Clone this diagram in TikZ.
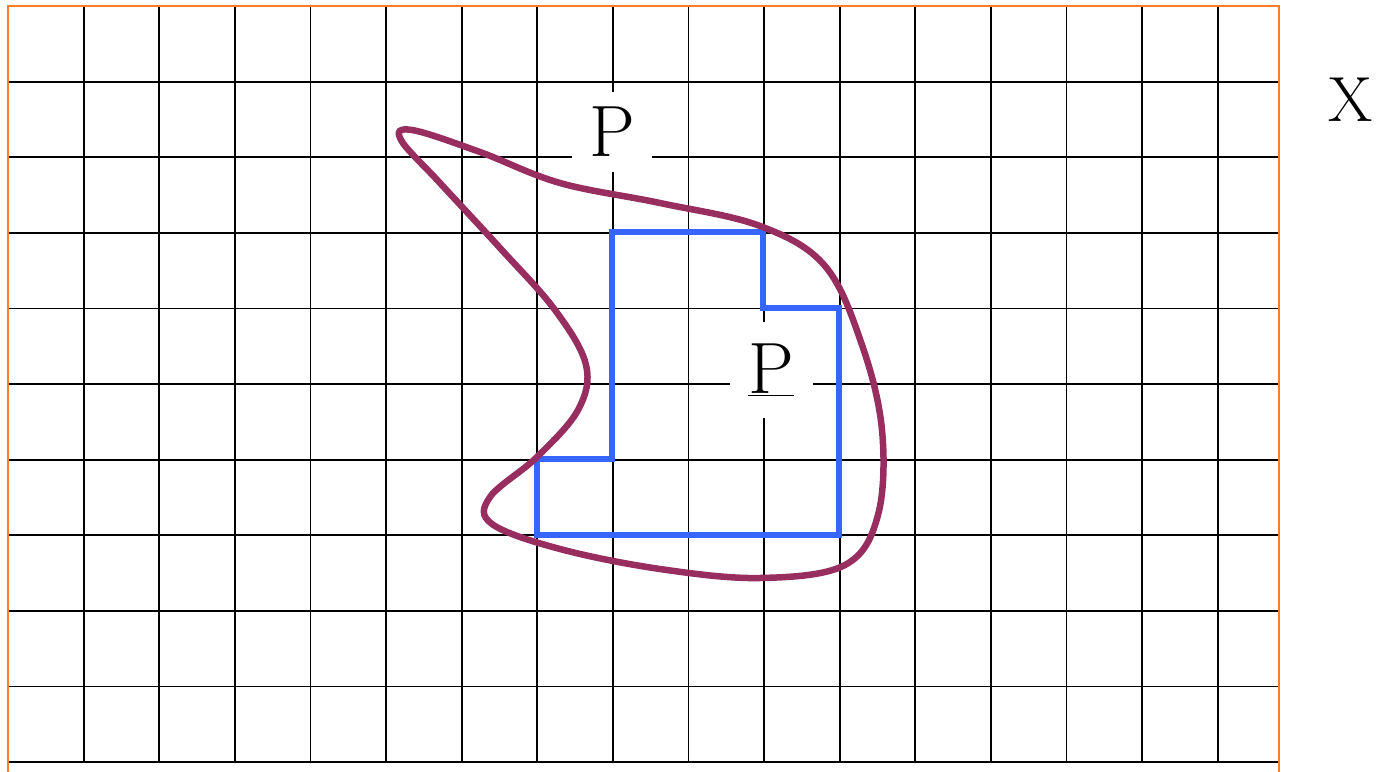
\documentclass[tikz,border=0pt]{standalone}
\begin{document}
\begin{tikzpicture}[x=1bp,y=-1bp,
  gridline/.style={black,line width=1.8bp},
  frameline/.style={color={rgb,255:red,255;green,125;blue,40},line width=1.6bp},
  setP/.style={color={rgb,255:red,55;green,102;blue,255},line width=6bp,line join=miter},
  blob/.style={color={rgb,255:red,152;green,45;blue,96},line width=6.5bp},
  lab/.style={fill=white,inner sep=0pt,font=\fontsize{73}{80}\selectfont}]
\useasboundingbox (0,0) rectangle (1378,771);
% grid
\foreach \k in {1,...,16} \draw[gridline] ({8+75.6*\k},6) -- ({8+75.6*\k},762);
\foreach \k in {1,...,10} \draw[gridline] (8,{6+75.6*\k}) -- (1279,{6+75.6*\k});
% frame
\draw[frameline] (8,775) -- (8,6) -- (1279,6) -- (1279,775);
% labels
\node[lab,minimum width=80bp,minimum height=80bp] (P1) at (612,132) {P};
\node[lab,minimum width=83bp,minimum height=96bp] (P2) at (771,370) {\underline{P}};
\node[font=\fontsize{64}{70}\selectfont,anchor=center] (X) at (1351,100) {X};
% blue set
\draw[setP] (612,232) -- (763,232) -- (763,308) -- (839,308) -- (839,535) -- (537,535) -- (537,459) -- (612,459) -- cycle;
% purple curve
\draw[blob] plot[smooth cycle,tension=0.6] coordinates {
(412,130) (480,152) (560,183) (660,203) (760,226) (825,266) (862,345) (882,430)
(878,515) (845,565) (760,578) (660,569) (560,549) (492,524) (490,497) (537,457)
(578,410) (586,365) (555,310) (500,248) (440,183) (401,140)};
\end{tikzpicture}
\end{document}
